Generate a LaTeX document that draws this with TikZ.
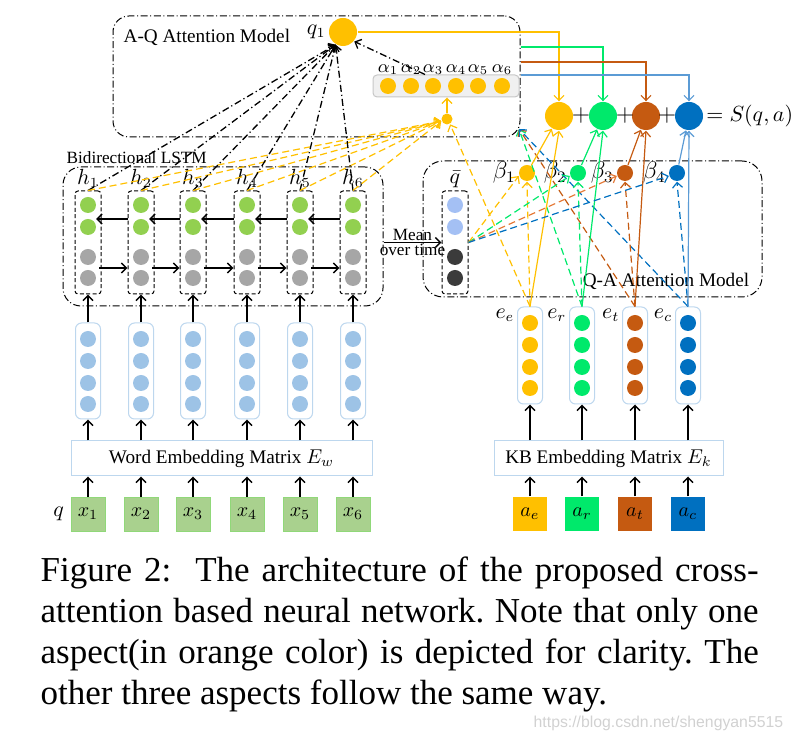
\documentclass[tikz,border=0pt]{standalone}
\usepackage{amsmath}
\usepackage{amssymb}
\usepackage{fontspec}
\setmainfont{Liberation Serif}
\setsansfont{Liberation Sans}
\usetikzlibrary{positioning,arrows.meta}

\definecolor{aspE}{HTML}{FFC000}
\definecolor{aspR}{HTML}{00E96B}
\definecolor{aspT}{HTML}{C55A11}
\definecolor{aspTl}{HTML}{E57A38}
\definecolor{aspC}{HTML}{0070C0}
\definecolor{aspCl}{HTML}{5B9BD5}
\definecolor{hidc}{HTML}{92D050}
\definecolor{cellg}{HTML}{A6A6A6}
\definecolor{embc}{HTML}{9DC3E6}
\definecolor{embb}{HTML}{BDD7EE}
\definecolor{wordc}{HTML}{A9D18E}
\definecolor{qlight}{HTML}{A4C0F4}
\definecolor{qdark}{HTML}{3B3B3B}

\tikzset{
  cell/.style={circle,inner sep=0pt,minimum size=8pt},
  hcol/.style={draw,line width=0.5pt,dash pattern=on 2pt off 1.2pt,rounded corners=1.5pt,minimum width=13pt,minimum height=51.5pt,inner sep=0pt},
  ecol/.style={draw=embb,line width=0.5pt,rounded corners=3pt,minimum width=12.5pt,minimum height=48pt,inner sep=0pt},
  modelbox/.style={draw,line width=0.5pt,dash pattern=on 3.5pt off 1.3pt on 0.5pt off 1.3pt,rounded corners=9pt,inner sep=0pt},
  dashdot/.style={line width=0.65pt,dash pattern=on 3.5pt off 1.5pt on 0.6pt off 1.5pt},
  attn/.style={line width=0.6pt,dash pattern=on 3.5pt off 2pt},
  matbox/.style={draw=embb,line width=0.5pt,minimum height=17.5pt,inner sep=0pt},
  tok/.style={minimum size=17pt,inner sep=0pt},
  lbl/.style={inner sep=1pt,font=\fontsize{10.5}{12}\selectfont},
  capline/.style={anchor=base west,inner sep=0pt,font=\fontsize{17.5}{20.5}\selectfont\frenchspacing},
}

\begin{document}
\begin{tikzpicture}[x=0.5pt,y=-0.5pt,>={Straight Barb[length=2.6pt,width=5pt]},line width=0.7pt,font=\fontsize{9.6}{11.5}\selectfont]
  \useasboundingbox (0,0) rectangle (793,742);
  % question side: tokens, word embeddings, bi-lstm
  \node[matbox,minimum width=150.5pt] (wemb) at (221.5,458.5) {Word Embedding Matrix $E_w$};
  \node[modelbox,minimum width=160pt,minimum height=69.5pt] (lstm) at (223,236.5) {};
  \node[anchor=west,inner sep=1pt,font=\fontsize{8.6}{10}\selectfont] (lstmlbl) at (64,158) {Bidirectional LSTM};
  \foreach \i/\x in {1/88,2/141,3/193,4/247,5/300,6/353} {
    \node[tok,fill=wordc,draw=wordc!85!green,line width=0.4pt] (x\i) at (\x,514) {$x_\i$};
    \node[ecol] (emb\i) at (\x,371) {};
    \foreach \y [count=\k] in {339,361,383,404}
      \node[cell,fill=embc] (emb\i-\k) at (\x,\y) {};
    \node[hcol] (h\i) at (\x,242.5) {};
    \node[cell,fill=hidc] (h\i-1) at (\x,205) {};
    \node[cell,fill=hidc] (h\i-2) at (\x,227) {};
    \node[cell,fill=cellg] (h\i-3) at (\x,257) {};
    \node[cell,fill=cellg] (h\i-4) at (\x,278) {};
    \node[lbl,above=0pt of h\i] (hl\i) {$h_\i$};
    \draw[->] (x\i) -- (x\i |- wemb.south);
    \draw[->] (wemb.north -| emb\i) -- (emb\i);
    \draw[->] (emb\i) -- (h\i);
  }
  \node[lbl,left=2pt of x1] (qtok) {$q$};
  \foreach \i [count=\j from 2] in {1,...,5} {
    \draw[->] ([yshift=11.75pt]h\j.west) -- ([xshift=4pt,yshift=11.75pt]h\i.center);
    \draw[->] ([xshift=5.5pt,yshift=-12.75pt]h\i.center) -- ([yshift=-12.75pt]h\j.west);
  }

  % A-Q attention
  \node[modelbox,rounded corners=8pt,minimum width=203.5pt,minimum height=60.5pt] (aq) at (316.5,76.5) {};
  \node[anchor=west,inner sep=1pt] (aqlbl) at (121,37) {A-Q Attention Model};
  \node[cell,minimum size=14pt,fill=aspE] (q1) at (343,32) {};
  \node[lbl,left=0pt of q1] (q1lbl) {$q_1$};
  \node[draw=black!22,fill=black!6,line width=0.5pt,rounded corners=2pt,minimum width=73pt,minimum height=11pt,inner sep=0pt] (alpha) at (446,86) {};
  \foreach \k/\x in {1/388,2/411,3/433,4/456,5/478,6/502} {
    \node[cell,fill=aspE] (al\k) at (\x,86) {};
    \node[inner sep=0.5pt,above=0.5pt of al\k,font=\fontsize{9}{10}\selectfont] (all\k) {$\alpha_\k$};
  }
  \node[cell,minimum size=5.5pt,fill=aspE] (att) at (447,119) {};
  \coordinate (aqin) at (519,129);

  % score
  \foreach \k/\x/\c in {1/559/aspE,2/603/aspR,3/646/aspT,4/689/aspC}
    \node[cell,minimum size=14pt,fill=\c] (s\k) at (\x,116) {};
  \node[inner sep=0pt,font=\large] (p1) at (581,116) {$+$};
  \node[inner sep=0pt,font=\large] (p2) at (625,116) {$+$};
  \node[inner sep=0pt,font=\large] (p3) at (667,116) {$+$};
  \node[right=0pt of s4,inner sep=1pt,font=\fontsize{10.5}{12}\selectfont] (score) {$=S(q,a)$};

  % Q-A attention
  \node[modelbox,rounded corners=10pt,minimum width=169.5pt,minimum height=68pt] (qa) at (592.5,229) {};
  \node[inner sep=1pt] (qalbl) at (666,281) {Q-A Attention Model};
  \node[hcol] (qbar) at (455,242.5) {};
  \node[cell,fill=qlight] (qb1) at (455,205) {};
  \node[cell,fill=qlight] (qb2) at (455,227) {};
  \node[cell,fill=qdark] (qb3) at (455,257) {};
  \node[cell,fill=qdark] (qb4) at (455,278) {};
  \node[lbl,above=0pt of qbar] (qbarlbl) {$\bar{q}$};
  \draw[->] (qbar.west -| lstm.east) -- (qbar.west)
    node[midway,above=0pt,inner sep=0.5pt,font=\fontsize{8.6}{10}\selectfont] (mean) {Mean}
    node[midway,below=0pt,inner sep=0.5pt,font=\fontsize{8.6}{10}\selectfont] (overt) {over time};

  % answer side: kb embeddings
  \node[matbox,minimum width=114.5pt] (kemb) at (608.5,458.5) {KB Embedding Matrix $E_k$};
  \foreach \k/\x/\bx/\c/\s in {1/530/527/aspE/e,2/582/578/aspR/r,3/635/625/aspT/t,4/688/677/aspC/c} {
    \node[tok,fill=\c] (a\k) at (\x,514) {$a_\s$};
    \node[ecol,minimum height=48.5pt] (e\k) at (\x,355.5) {};
    \foreach \y [count=\m] in {323,345,367,388}
      \node[cell,fill=\c] (e\k-\m) at (\x,\y) {};
    \node[lbl,anchor=north east] (el\k) at (e\k.north west) {$e_\s$};
    \node[cell,fill=\c] (b\k) at (\bx,173) {};
    \node[lbl,left=0pt of b\k,font=\fontsize{11.5}{13}\selectfont] (bl\k) {$\beta_\k$};
    \draw[->] (a\k) -- (a\k |- kemb.south);
    \draw[->] (kemb.north -| e\k) -- (e\k);
  }

  % attention flows
  \foreach \i in {1,...,6} {
    \draw[->,dashdot] (h\i.north) -- (q1.240);
    \draw[->,attn,aspE] (h\i.north) -- (att.200);
  }
  \draw[->,aspE,line width=0.6pt] (att) -- (att |- alpha.south);
  \draw[->,dashdot] ([xshift=-10.5pt]alpha.north) -- (q1.-40);
  \draw[->,aspE,line width=0.55pt] (q1.east) -| (s1.north);
  \draw[->,aspR,line width=0.55pt] ([yshift=14.75pt]aq.east) -| (s2.north);
  \draw[->,aspT,line width=0.55pt] ([yshift=7.25pt]aq.east) -| (s3.north);
  \draw[->,aspCl,line width=0.55pt] ([yshift=0.75pt]aq.east) -| (s4.north);
  \draw[->,attn,aspE] (e1.north) -- (att.-60);
  \foreach \k/\c in {2/aspR,3/aspT,4/aspC}
    \draw[->,attn,\c] (e\k.north) -- (aqin);
  \foreach \k/\c/\d/\f in {1/aspE/aspE/aspE,2/aspR/aspR/aspR,3/aspTl/aspT/aspT,4/aspC/aspC/aspCl} {
    \draw[->,attn,\c] (qbar.east) -- (b\k.200);
    \draw[->,attn,\d] (e\k.north) -- (b\k.south);
    \draw[->,\f,line width=0.6pt] (e\k.north) -- (s\k.south);
    \draw[->,\f,line width=0.6pt] (b\k) -- (s\k);
  }

  % caption
  \node[capline] (cap1) at (40,582) {\makebox[359pt][s]{Figure 2:\ \ The architecture of the proposed cross-}};
  \node[capline] (cap2) at (40,623) {\makebox[359pt][s]{attention based neural network. Note that only one}};
  \node[capline] (cap3) at (40,664) {\makebox[359pt][s]{aspect(in orange color) is depicted for clarity. The}};
  \node[capline] (cap4) at (40,705) {other three aspects follow the same way.};
  \node[anchor=base west,inner sep=0pt,font=\sffamily\fontsize{7.9}{9}\selectfont,text=black!18] (wmark) at (533,728) {https://blog.csdn.net/shengyan5515};
\end{tikzpicture}
\end{document}
